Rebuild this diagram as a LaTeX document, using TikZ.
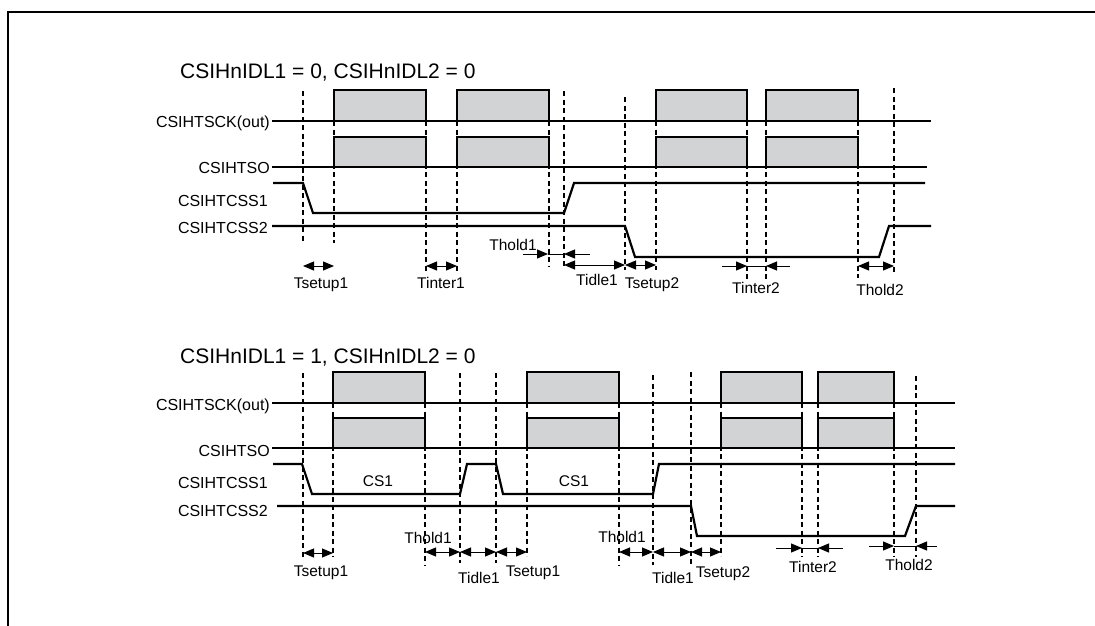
\documentclass[tikz,border=0pt]{standalone}
\usepackage{fontspec}
\setmainfont{Liberation Sans}
\usetikzlibrary{arrows.meta}
\definecolor{pulsegray}{RGB}{209,211,212}
\tikzset{
  sig/.style={line width=2.2pt, line join=miter},
  pulse/.style={fill=pulsegray, draw=black, line width=1.1pt},
  guide/.style={dash pattern=on 5pt off 3.5pt, line width=1.1pt},
  dim/.style={line width=1pt, {Triangle[length=11pt,width=9pt]}-{Triangle[length=11pt,width=9pt]}},
  tipr/.style={line width=1pt, -{Triangle[length=11pt,width=9pt]}},
  thin/.style={line width=1pt},
  lab/.style={font=\fontsize{16}{18}\selectfont, anchor=base east, inner sep=0pt},
  tlab/.style={font=\fontsize{15.5}{17}\selectfont, anchor=base, inner sep=0pt},
  ttl/.style={font=\fontsize{21}{24}\selectfont, anchor=base west, inner sep=0pt},
  frame/.style={line width=2pt}
}
\begin{document}
\begin{tikzpicture}[x=1pt,y=-1pt]
\useasboundingbox (0,0) rectangle (1095,626);
\fill[white] (0,0) rectangle (1095,626);
\draw[frame] (7.5,640) -- (7.5,12.5) -- (1110,12.5);

% ================= TOP =================
\node[ttl] (t1) at (180,78) {CSIHnIDL1 = 0, CSIHnIDL2 = 0};

\foreach \x/\ya/\yb in {303/91/243, 334/121/243, 426/121/272, 457/121/272, 549/121/267, 564/91/267, 625/97/270, 656/121/270, 747/121/280, 766/121/280, 858/121/278, 894/88/273}
  \draw[guide] (\x,\ya) -- (\x,\yb);

\foreach \a/\b in {334/426, 457/549, 656/747, 766/858} {
  \filldraw[pulse] (\a,121) rectangle (\b,90);
  \filldraw[pulse] (\a,167) rectangle (\b,137);
}

\node[lab] (sck1) at (270,127) {CSIHTSCK(out)};
\node[lab] (so1) at (270,173) {CSIHTSO};
\node[lab] (cs11) at (268,206) {CSIHTCSS1};
\node[lab] (cs21) at (268,233) {CSIHTCSS2};

\draw[sig] (272,121) -- (931,121);
\draw[sig] (272,167) -- (927,167);
\draw[sig] (273,183) -- (303,183) -- (313,213) -- (564,213) -- (574,183) -- (925,183);
\draw[sig] (272,226) -- (625,226) -- (635,257) -- (879,257) -- (889,226) -- (931,226);

\draw[dim] (303,266) -- (334,266);
\draw[dim] (426,266) -- (457,266);
\draw[tipr] (523,254) -- (548,254);
\draw[tipr] (590,254) -- (564,254);
\draw[thin] (548,254) -- (564,254);
\draw[dim] (564,265) -- (625,265);
\draw[dim] (625,265) -- (656,265);
\draw[tipr] (722,266) -- (747,266);
\draw[tipr] (790,266) -- (766,266);
\draw[thin] (747,266) -- (766,266);
\draw[dim] (858,266) -- (894,266);

\node[tlab] (a1) at (321,288) {Tsetup1};
\node[tlab] (a2) at (441,288) {Tinter1};
\node[tlab] (a3) at (513,250) {Thold1};
\node[tlab] (a4) at (597,285) {Tidle1};
\node[tlab] (a5) at (652,288) {Tsetup2};
\node[tlab] (a6) at (756,293) {Tinter2};
\node[tlab] (a7) at (880,295) {Thold2};

% ================= BOTTOM =================
\node[ttl] (t2) at (180,363) {CSIHnIDL1 = 1, CSIHnIDL2 = 0};

\foreach \x/\ya/\yb in {303/373/557, 333/403/557, 425/403/565, 460/373/563, 496/373/563, 527/403/556, 619/403/565, 653/375/565, 691/372/565, 721/403/556, 802/403/557, 818/403/557, 894/403/557, 916/376/557}
  \draw[guide] (\x,\ya) -- (\x,\yb);

\foreach \a/\b in {333/425, 527/619, 721/802, 818/894} {
  \filldraw[pulse] (\a,403) rectangle (\b,372);
  \filldraw[pulse] (\a,448) rectangle (\b,418);
}

\node[lab] (sck2) at (270,410) {CSIHTSCK(out)};
\node[lab] (so2) at (270,456) {CSIHTSO};
\node[lab] (cs12) at (268,488) {CSIHTCSS1};
\node[lab] (cs22) at (268,516) {CSIHTCSS2};

\draw[sig] (272,403) -- (955,403);
\draw[sig] (272,448) -- (955,448);
\draw[sig] (273,464) -- (302,464) -- (312,494) -- (460,494) -- (467,464) -- (496,464) -- (503,494) -- (653,494) -- (659,464) -- (955,464);
\draw[sig] (277,506) -- (691,506) -- (697,536) -- (905,536) -- (916,506) -- (955,506);

\node[tlab] (c1) at (378,486) {CS1};
\node[tlab] (c2) at (574,486) {CS1};

\draw[dim] (303,553) -- (333,553);
\draw[dim] (425,552) -- (460,552);
\draw[dim] (460,552) -- (496,552);
\draw[dim] (496,552) -- (527,552);
\draw[dim] (619,552) -- (653,552);
\draw[dim] (653,552) -- (691,552);
\draw[dim] (691,552) -- (721,552);
\draw[tipr] (776,548) -- (802,548);
\draw[tipr] (843,548) -- (818,548);
\draw[thin] (802,548) -- (818,548);
\draw[tipr] (869,546) -- (894,546);
\draw[tipr] (937,546) -- (916,546);
\draw[thin] (894,546) -- (916,546);

\node[tlab] (b1) at (321,576) {Tsetup1};
\node[tlab] (b2) at (428,543) {Thold1};
\node[tlab] (b3) at (479,583) {Tidle1};
\node[tlab] (b4) at (533,576) {Tsetup1};
\node[tlab] (b5) at (622,542) {Thold1};
\node[tlab] (b6) at (673,583) {Tidle1};
\node[tlab] (b7) at (723,577) {Tsetup2};
\node[tlab] (b8) at (813,572) {Tinter2};
\node[tlab] (b9) at (909,570) {Thold2};
\end{tikzpicture}
\end{document}
